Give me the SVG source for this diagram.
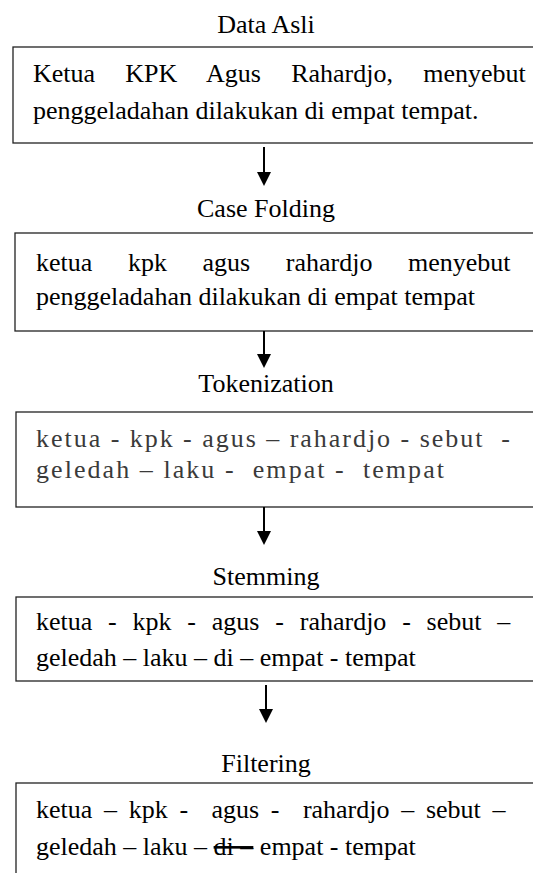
<svg xmlns="http://www.w3.org/2000/svg" width="533" height="873" viewBox="0 0 533 873">
  <style>
    .title { font-family: "Liberation Serif", "Times New Roman", serif; font-size: 26px; fill: #000; text-anchor: middle; }
    .body { font-family: "Liberation Serif", "Times New Roman", serif; font-size: 26px; fill: #000; white-space: pre; }
    .token { font-family: "Liberation Serif", "Times New Roman", serif; font-size: 26px; fill: #3a3a3a; white-space: pre; }
    .box { fill: #fff; stroke: #222; stroke-width: 1.3; }
    .conn { stroke: #000; stroke-width: 2; fill: none; }
    .head { fill: #000; }
  </style>
  <rect width="533" height="873" fill="#fff"/>

  <!-- Data Asli -->
  <g id="data-asli">
    <text class="title" x="266" y="33">Data Asli</text>
    <rect class="box" x="13" y="47" width="540" height="96"/>
    <text class="body" x="33" y="82" style="word-spacing:23.7px">Ketua KPK Agus Rahardjo, menyebut</text>
    <text class="body" x="33" y="119">penggeladahan dilakukan di empat tempat.</text>
  </g>

  <!-- Case Folding -->
  <g id="case-folding">
    <text class="title" x="266" y="217">Case Folding</text>
    <rect class="box" x="15" y="233" width="540" height="98"/>
    <text class="body" x="36" y="271" style="word-spacing:29.1px">ketua kpk agus rahardjo menyebut</text>
    <text class="body" x="36" y="305">penggeladahan dilakukan di empat tempat</text>
  </g>

  <!-- Tokenization -->
  <g id="tokenization">
    <text class="title" x="266" y="392">Tokenization</text>
    <rect class="box" x="16" y="412" width="540" height="95"/>
    <text class="token" x="36" y="447" textLength="474" lengthAdjust="spacing">ketua - kpk - agus – rahardjo - sebut  -</text>
    <text class="token" x="36" y="478" textLength="408" lengthAdjust="spacing">geledah – laku -  empat -  tempat</text>
  </g>

  <!-- Stemming -->
  <g id="stemming">
    <text class="title" x="266" y="585">Stemming</text>
    <rect class="box" x="16" y="597" width="540" height="84"/>
    <text class="body" x="36" y="630" style="word-spacing:9.3px">ketua - kpk - agus - rahardjo - sebut –</text>
    <text class="body" x="36" y="666">geledah – laku – di – empat - tempat</text>
  </g>

  <!-- Filtering -->
  <g id="filtering">
    <text class="title" x="266" y="772">Filtering</text>
    <rect class="box" x="16" y="783" width="540" height="120"/>
    <text class="body" x="36" y="818" style="word-spacing:5.2px">ketua – kpk -  agus -  rahardjo – sebut –</text>
    <text class="body" x="36" y="855">geledah – laku – <tspan text-decoration="line-through">di –</tspan> empat - tempat</text>
  </g>

  <!-- Connectors -->
  <g id="connectors">
    <line class="conn" x1="264" y1="147" x2="264" y2="174"/>
    <polygon class="head" points="257,172 271,172 264,186"/>
    <line class="conn" x1="264" y1="331" x2="264" y2="356"/>
    <polygon class="head" points="257,354 271,354 264,368"/>
    <line class="conn" x1="264" y1="507" x2="264" y2="533"/>
    <polygon class="head" points="257,531 271,531 264,545"/>
    <line class="conn" x1="266" y1="685" x2="266" y2="711"/>
    <polygon class="head" points="259,709 273,709 266,723"/>
  </g>
</svg>
